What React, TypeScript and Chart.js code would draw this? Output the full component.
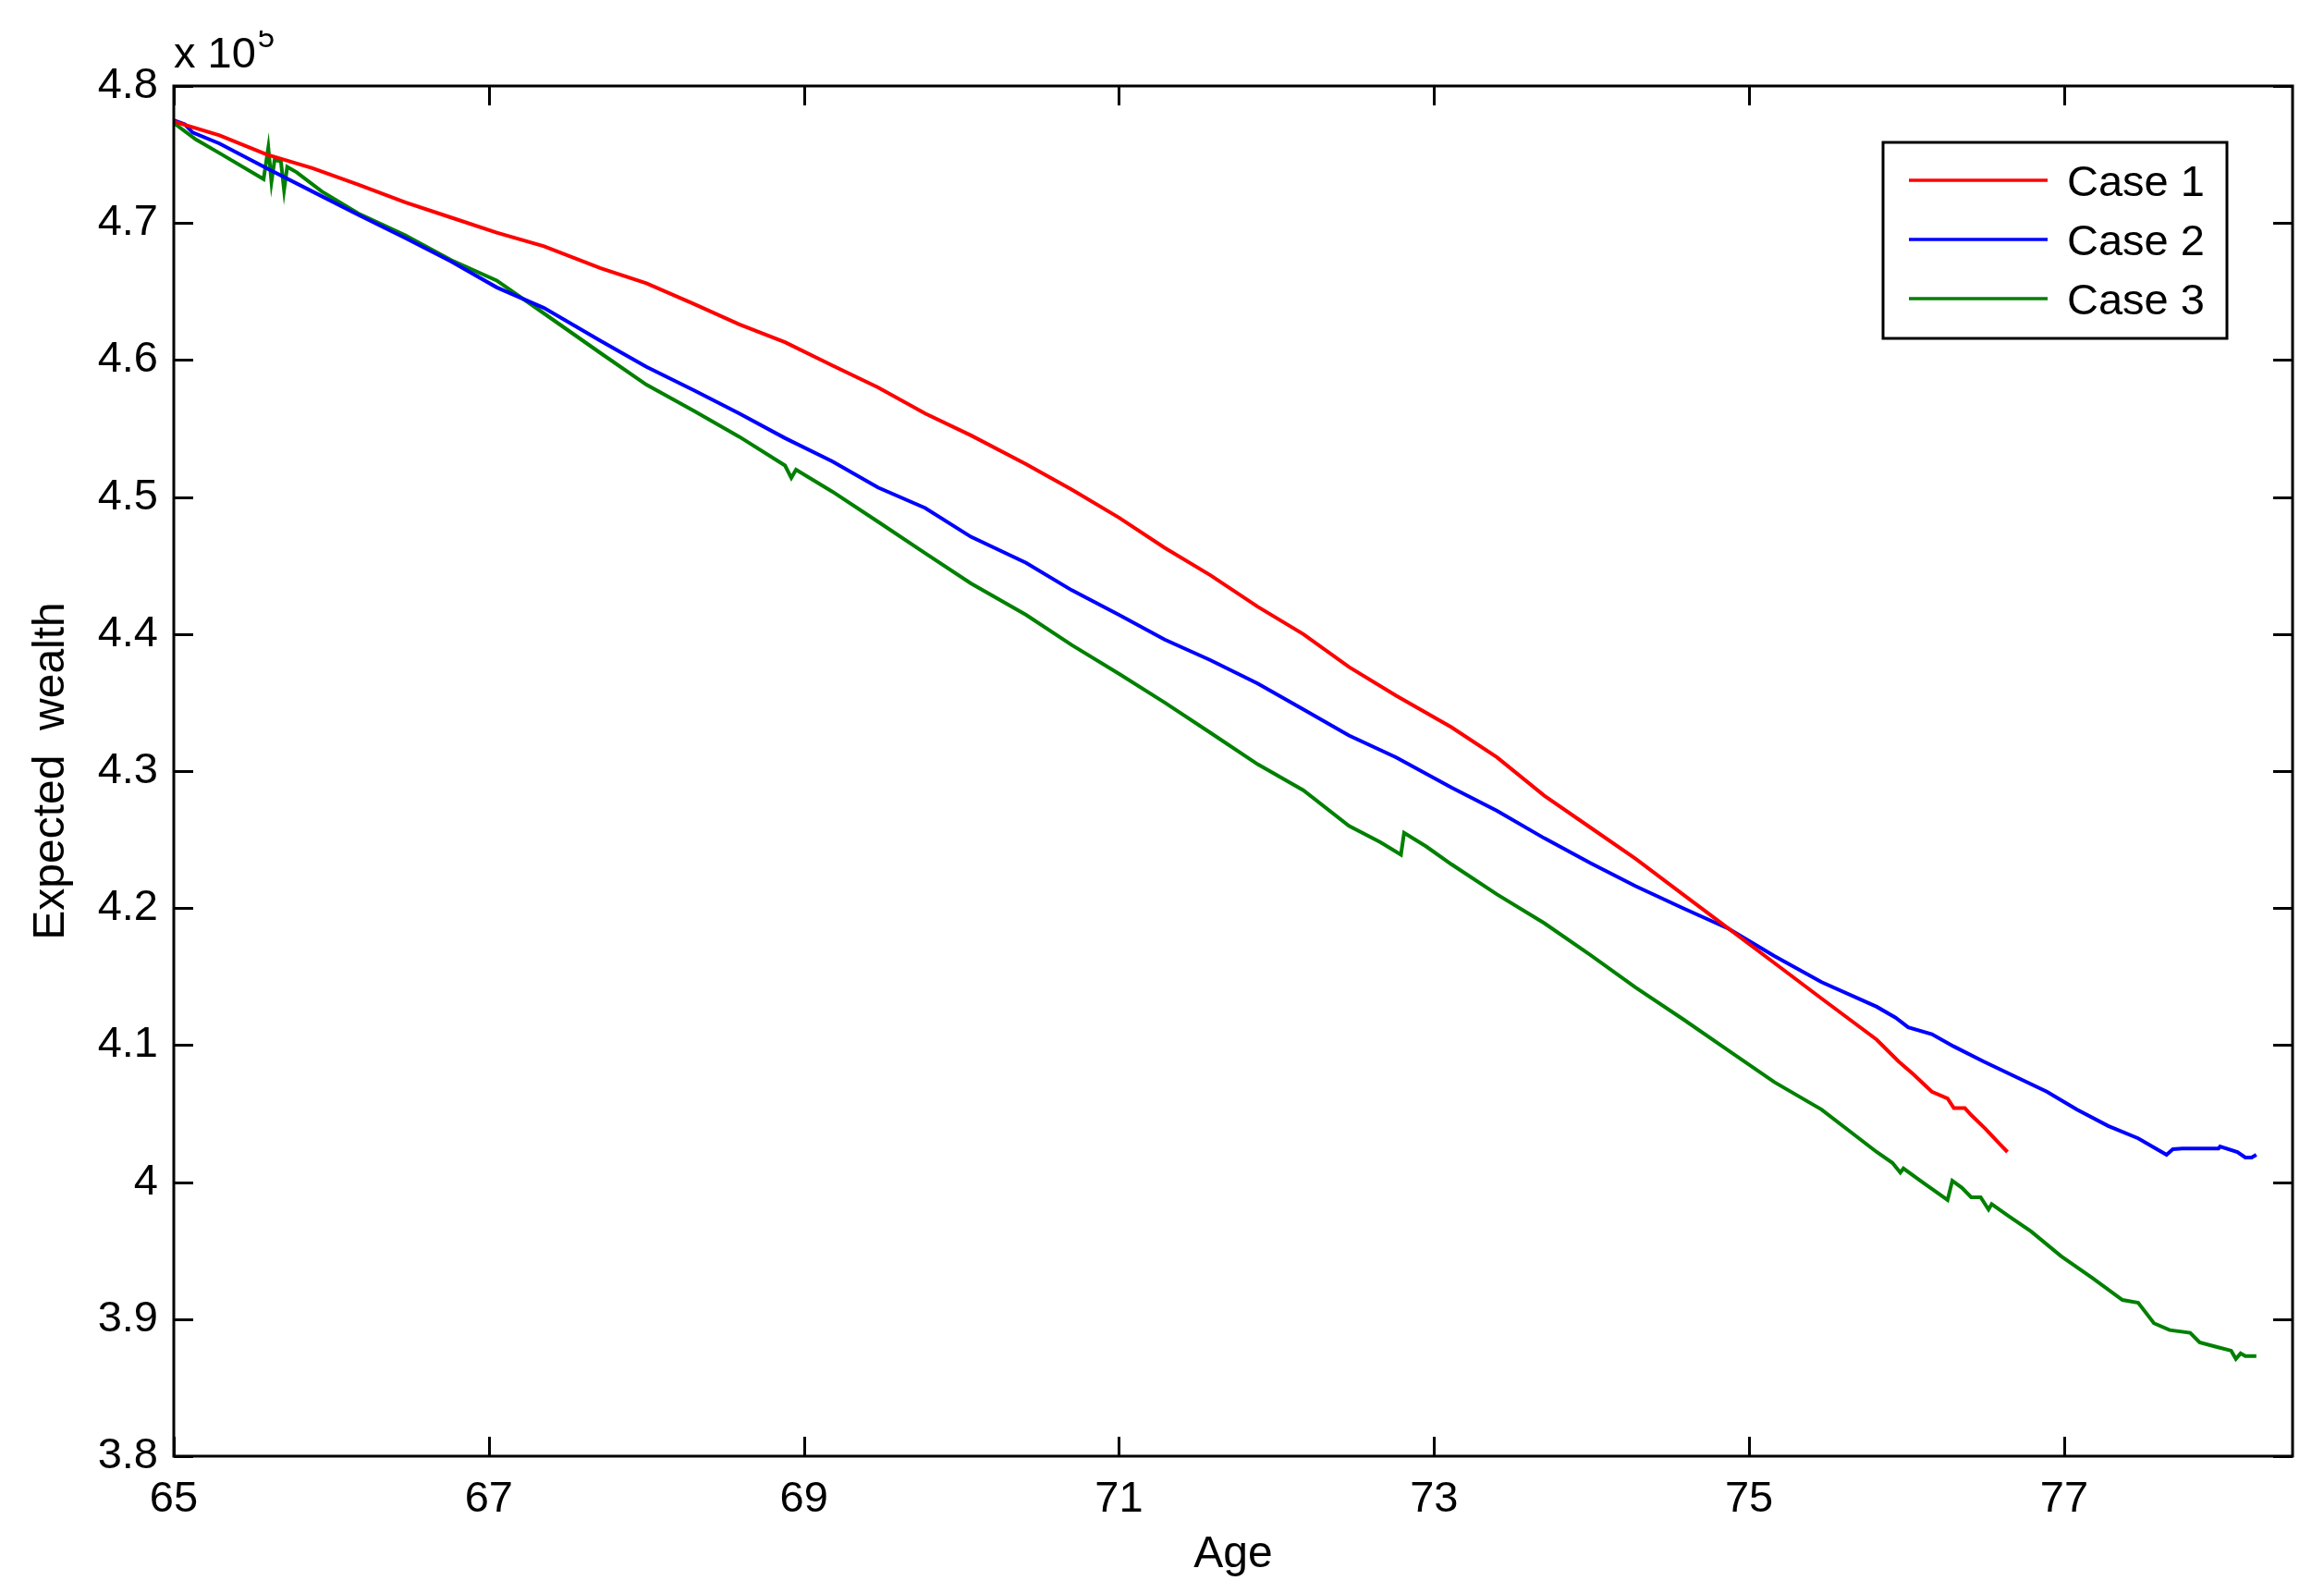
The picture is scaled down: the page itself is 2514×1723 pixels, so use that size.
import { useEffect, useRef } from 'react';
import { Chart, registerables } from 'chart.js';

Chart.register(...registerables);

// ---- Data (expected wealth in units of 10^5) ----
const case1Age = [65.0, 65.29, 65.59, 65.88, 66.17, 66.47, 66.76, 67.05, 67.35, 67.71, 68.0, 68.3, 68.59, 68.88, 69.18, 69.47, 69.77, 70.06, 70.41, 70.7, 71.0, 71.29, 71.58, 71.88, 72.17, 72.46, 72.76, 73.11, 73.4, 73.7, 73.99, 74.28, 74.58, 74.87, 75.16, 75.46, 75.81, 75.95, 76.04, 76.16, 76.26, 76.3, 76.37, 76.41, 76.5, 76.59, 76.64];
const case1Wealth = [4.774, 4.764, 4.75, 4.74, 4.728, 4.715, 4.704, 4.693, 4.683, 4.667, 4.656, 4.641, 4.626, 4.613, 4.596, 4.58, 4.561, 4.545, 4.524, 4.5055, 4.485, 4.463, 4.443, 4.42, 4.4, 4.376, 4.355, 4.332, 4.31, 4.282, 4.259, 4.236, 4.21, 4.185, 4.16, 4.134, 4.104, 4.088, 4.079, 4.066, 4.061, 4.054, 4.054, 4.049, 4.039, 4.028, 4.022];

const case2Age = [65.0, 65.07, 65.12, 65.29, 65.59, 65.88, 66.17, 66.47, 66.76, 67.05, 67.35, 67.71, 68.0, 68.3, 68.59, 68.88, 69.18, 69.47, 69.77, 70.06, 70.41, 70.7, 71.0, 71.29, 71.58, 71.88, 72.17, 72.46, 72.76, 73.11, 73.4, 73.7, 73.99, 74.28, 74.58, 74.87, 75.16, 75.46, 75.81, 75.93, 76.01, 76.16, 76.3, 76.49, 76.69, 76.89, 77.08, 77.28, 77.47, 77.65, 77.69, 77.75, 77.98, 77.99, 78.1, 78.15, 78.19, 78.22];
const case2Wealth = [4.775, 4.772, 4.766, 4.758, 4.74, 4.723, 4.706, 4.689, 4.672, 4.653, 4.638, 4.614, 4.595, 4.578, 4.561, 4.543, 4.526, 4.507, 4.492, 4.471, 4.452, 4.432, 4.414, 4.396, 4.381, 4.364, 4.345, 4.326, 4.31, 4.288, 4.271, 4.251, 4.233, 4.216, 4.2, 4.185, 4.165, 4.146, 4.128, 4.12, 4.113, 4.108, 4.099, 4.088, 4.077, 4.066, 4.053, 4.041, 4.032, 4.02, 4.024, 4.0245, 4.0245, 4.026, 4.022, 4.018, 4.018, 4.02];

const case3Age = [65.0, 65.14, 65.29, 65.57, 65.6, 65.62, 65.64, 65.68, 65.7, 65.72, 65.78, 65.94, 66.17, 66.47, 66.76, 67.05, 67.35, 67.71, 68.0, 68.3, 68.59, 68.88, 68.92, 68.95, 69.18, 69.47, 69.77, 70.06, 70.41, 70.7, 71.0, 71.29, 71.58, 71.88, 72.17, 72.46, 72.66, 72.79, 72.81, 72.95, 73.11, 73.4, 73.7, 73.99, 74.28, 74.58, 74.87, 75.16, 75.46, 75.81, 75.91, 75.96, 75.98, 76.1, 76.26, 76.29, 76.35, 76.41, 76.47, 76.52, 76.54, 76.65, 76.79, 76.98, 77.18, 77.37, 77.47, 77.57, 77.67, 77.8, 77.86, 77.96, 78.06, 78.09, 78.12, 78.15, 78.22];
const case3Wealth = [4.773, 4.761, 4.751, 4.732, 4.755, 4.73, 4.746, 4.745, 4.724, 4.741, 4.737, 4.723, 4.707, 4.691, 4.673, 4.658, 4.634, 4.605, 4.582, 4.563, 4.544, 4.523, 4.514, 4.52, 4.504, 4.482, 4.459, 4.437, 4.414, 4.392, 4.371, 4.35, 4.328, 4.305, 4.286, 4.26, 4.248, 4.239, 4.255, 4.245, 4.232, 4.21, 4.189, 4.166, 4.142, 4.119, 4.096, 4.073, 4.053, 4.022, 4.014, 4.007, 4.01, 4.0, 3.987, 4.001, 3.996, 3.989, 3.989, 3.98, 3.984, 3.975, 3.964, 3.946, 3.93, 3.914, 3.912, 3.897, 3.892, 3.89, 3.883, 3.88, 3.877, 3.871, 3.875, 3.873, 3.873];

const xTicks = [65, 67, 69, 71, 73, 75, 77];
const yTicks = [3.8, 3.9, 4.0, 4.1, 4.2, 4.3, 4.4, 4.5, 4.6, 4.7, 4.8];
const yTickLabels = ['3.8', '3.9', '4', '4.1', '4.2', '4.3', '4.4', '4.5', '4.6', '4.7', '4.8'];
const seriesLabels = ['Case 1', 'Case 2', 'Case 3'];
const seriesColors = ['#ff0000', '#0000ff', '#008000'];
const xTitle = 'Age';
const yTitle = 'Expected  wealth';
const exponentBase = 'x 10';
const exponentPower = '5';

const FONT = "'Liberation Sans', Arial, Helvetica, sans-serif";

const toPoints = (xs: number[], ys: number[]) => xs.map((x, i) => ({ x, y: ys[i] }));

const matlabAxesPlugin = {
  id: 'matlabAxes',
  afterDraw(chart: any) {
    const { ctx, chartArea } = chart;
    const xs = chart.scales.x;
    const ys = chart.scales.y;
    const { left, right, top, bottom } = chartArea;
    const tickLen = 21;
    ctx.save();
    ctx.strokeStyle = '#000';
    ctx.lineWidth = 3;
    ctx.lineCap = 'butt';
    // box
    ctx.strokeRect(left, top, right - left, bottom - top);
    // inward ticks
    ctx.beginPath();
    xTicks.forEach((v) => {
      const px = Math.round(xs.getPixelForValue(v)) + 0.5;
      ctx.moveTo(px, bottom);
      ctx.lineTo(px, bottom - tickLen);
      ctx.moveTo(px, top);
      ctx.lineTo(px, top + tickLen);
    });
    yTicks.forEach((v) => {
      const py = Math.round(ys.getPixelForValue(v)) + 0.5;
      ctx.moveTo(left, py);
      ctx.lineTo(left + tickLen, py);
      ctx.moveTo(right, py);
      ctx.lineTo(right - tickLen, py);
    });
    ctx.stroke();

    // legend
    const lgRight = right - 71;
    const lgTop = top + 61;
    const lgLeft = lgRight - 372;
    const lgBottom = lgTop + 212;
    ctx.fillStyle = '#fff';
    ctx.fillRect(lgLeft, lgTop, lgRight - lgLeft, lgBottom - lgTop);
    ctx.lineWidth = 3;
    ctx.strokeStyle = '#000';
    ctx.strokeRect(lgLeft, lgTop, lgRight - lgLeft, lgBottom - lgTop);
    ctx.font = `47px ${FONT}`;
    ctx.textAlign = 'left';
    ctx.textBaseline = 'alphabetic';
    chart.data.datasets.forEach((ds: any, i: number) => {
      const y = lgTop + 41 + i * 64;
      ctx.strokeStyle = ds.borderColor;
      ctx.lineWidth = 3.5;
      ctx.beginPath();
      ctx.moveTo(lgLeft + 28, y);
      ctx.lineTo(lgLeft + 178, y);
      ctx.stroke();
      ctx.fillStyle = '#000';
      ctx.fillText(ds.label, lgLeft + 199, y + 17);
    });

    // axis titles
    ctx.fillStyle = '#000';
    ctx.font = `48px ${FONT}`;
    ctx.textAlign = 'center';
    ctx.textBaseline = 'alphabetic';
    ctx.fillText(xTitle, (left + right) / 2, 1695);
    ctx.save();
    ctx.translate(56, (top + bottom) / 2);
    ctx.rotate(-Math.PI / 2);
    ctx.textBaseline = 'middle';
    ctx.fillText(yTitle, 0, 0);
    ctx.restore();

    // exponent label
    ctx.textAlign = 'left';
    ctx.textBaseline = 'alphabetic';
    ctx.font = `47px ${FONT}`;
    ctx.fillText(exponentBase, left, 73);
    const baseW = ctx.measureText(exponentBase).width;
    ctx.save();
    ctx.beginPath();
    ctx.rect(left + baseW - 10, 33, 60, 40);
    ctx.clip();
    ctx.font = `33px ${FONT}`;
    ctx.fillText(exponentPower, left + baseW + 2, 51);
    ctx.restore();
    ctx.restore();
  },
};

export default function App() {
  const ref = useRef<HTMLCanvasElement | null>(null);

  useEffect(() => {
    document.body.style.margin = '0';
    document.body.style.overflow = 'hidden';
    const canvas = ref.current;
    if (!canvas) return;
    const series = [
      toPoints(case1Age, case1Wealth),
      toPoints(case2Age, case2Wealth),
      toPoints(case3Age, case3Wealth),
    ];
    const chart = new Chart(canvas, {
      type: 'line',
      data: {
        datasets: series.map((data, i) => ({
          label: seriesLabels[i],
          data,
          borderColor: seriesColors[i],
          backgroundColor: seriesColors[i],
          borderWidth: 4,
          pointRadius: 0,
          tension: 0,
          fill: false,
        })),
      },
      options: {
        animation: false,
        responsive: false,
        devicePixelRatio: 1,
        layout: { padding: { left: 0, top: 93, right: 34, bottom: 0 } },
        plugins: {
          legend: { display: false },
          tooltip: { enabled: false },
        },
        scales: {
          x: {
            type: 'linear',
            min: 65,
            max: 78.45,
            afterBuildTicks: (scale: any) => {
              scale.ticks = xTicks.map((v) => ({ value: v }));
            },
            afterFit: (scale: any) => {
              scale.height = 148;
            },
            grid: { display: false, drawTicks: false },
            border: { display: false },
            ticks: {
              autoSkip: false,
              maxRotation: 0,
              padding: 19,
              color: '#000',
              font: { family: FONT, size: 47 },
              callback: (value: any) => String(value),
            },
          },
          y: {
            type: 'linear',
            min: 3.8,
            max: 4.8,
            afterBuildTicks: (scale: any) => {
              scale.ticks = yTicks.map((v) => ({ value: v }));
            },
            afterFit: (scale: any) => {
              scale.width = 188;
            },
            grid: { display: false, drawTicks: false },
            border: { display: false },
            ticks: {
              autoSkip: false,
              padding: 17,
              color: '#000',
              font: { family: FONT, size: 47 },
              callback: (_v: any, index: number) => yTickLabels[index],
            },
          },
        },
      },
      plugins: [matlabAxesPlugin],
    });
    return () => chart.destroy();
  }, []);

  return (
    <div style={{ width: 2514, height: 1723, background: '#fff' }}>
      <canvas ref={ref} width={2514} height={1723} style={{ display: 'block', width: 2514, height: 1723 }} />
    </div>
  );
}
